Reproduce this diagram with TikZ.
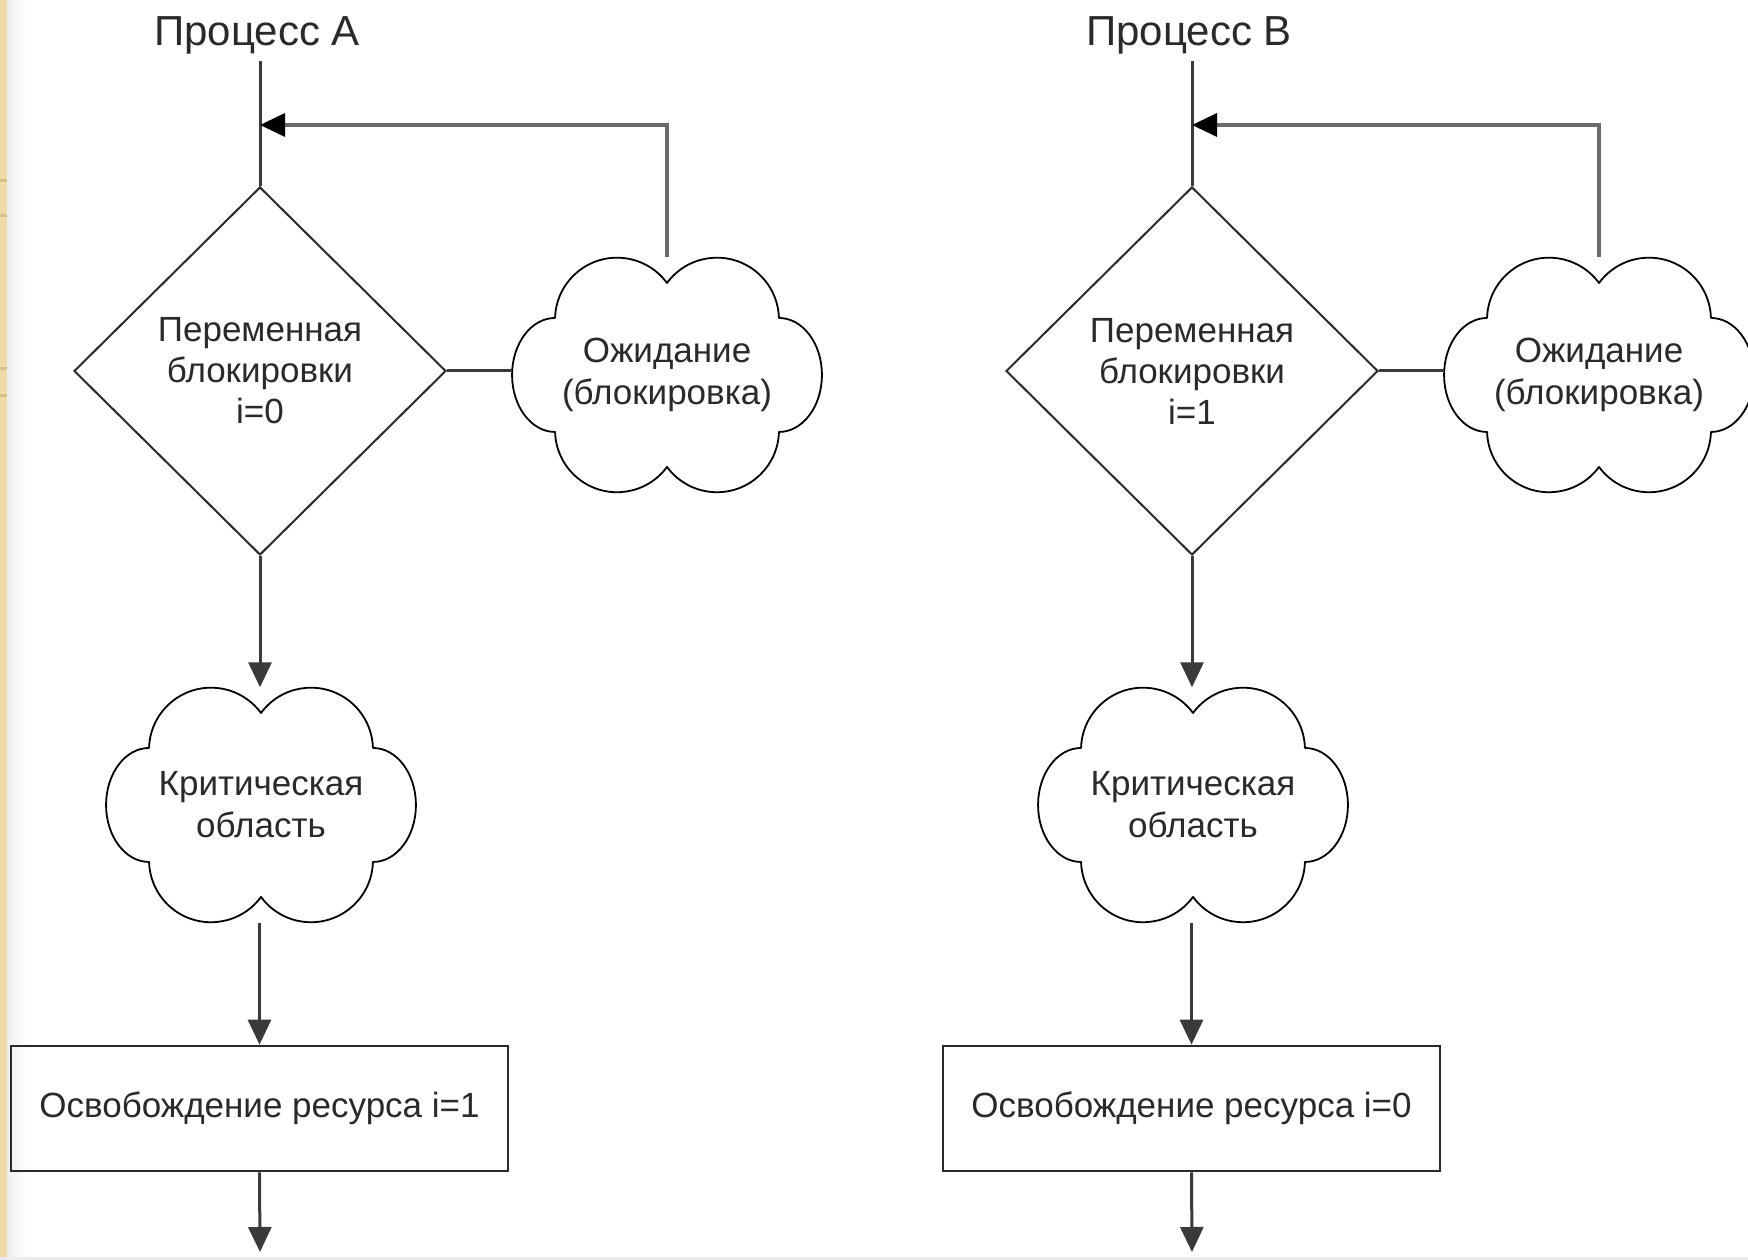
\documentclass[tikz,border=0pt]{standalone}
\usepackage{fontspec}
\setmainfont{Liberation Sans}
\usetikzlibrary{shapes.geometric,arrows.meta}

\definecolor{ink}{HTML}{2A2A2A}
\definecolor{wire}{HTML}{3A3A3A}
\definecolor{loopwire}{HTML}{6A6A6A}
\definecolor{parchment}{HTML}{EFDCA9}
\definecolor{parchmentline}{HTML}{D9C08A}

\newcommand\bodyfont{\fontsize{35}{41}\selectfont}
\newcommand\headfont{\fontsize{42}{50}\selectfont}

% cloud outline: two big lobes top and bottom, a flat lobe on each side
\newcommand\cloudpath[1]{%
  \draw[cloudline,shift={(#1.center)}] (0pt,92pt)
    arc[start angle=143.7,end angle=1.6,radius=62pt]
    arc[start angle=90,end angle=-90,x radius=43pt,y radius=57pt]
    arc[start angle=-1.6,end angle=-143.7,radius=62pt]
    arc[start angle=-36.3,end angle=-178.4,radius=62pt]
    arc[start angle=270,end angle=90,x radius=43pt,y radius=57pt]
    arc[start angle=178.4,end angle=36.3,radius=62pt] -- cycle;}

\tikzset{
  titletext/.style={text=ink,font=\headfont,inner sep=0pt},
  decision/.style={shape=diamond,aspect=1,draw=ink,line width=2pt,
    minimum width=372pt,minimum height=368pt,inner sep=0pt,
    align=center,text=ink,font=\bodyfont},
  cloudnode/.style={shape=rectangle,minimum width=310pt,minimum height=235pt,
    inner sep=0pt,align=center,text=ink,font=\fontsize{35}{42}\selectfont},
  cloudline/.style={draw=black,line width=1.8pt,line join=round},
  actionbox/.style={shape=rectangle,draw=ink,line width=2.6pt,
    minimum width=497pt,minimum height=125pt,inner sep=0pt,
    text=ink,font=\bodyfont},
  wireline/.style={draw=wire,line width=3pt},
  flow/.style={wireline,-{Triangle[length=25pt,width=23pt]}},
  loopflow/.style={draw=loopwire,line width=3.4pt,-{Triangle[length=25pt,width=23pt,color=black]}},
}

\begin{document}
\begin{tikzpicture}[x=1pt,y=1pt]
\useasboundingbox (0,0) rectangle (1748,1260);
\clip (0,0) rectangle (1748,1260);
\fill[white] (0,0) rectangle (1748,1260);

% slide edge on the left and a faint rule at the bottom
\shade[left color=black!7,right color=white] (7,0) rectangle (26,1260);
\fill[parchment] (0,0) rectangle (7,1260);
\foreach \yy in {1078,1043,890,863} \fill[parchmentline] (0,\yy) rectangle (7,\yy+3);
\fill[black!8] (0,0) rectangle (1748,3);

% ---------- process A ----------
\node[titletext] (tA) at (257,1225) {Процесс A};
\coordinate (topA) at (260,1199);
\coordinate (jA) at (260,1135);
\node[decision] (dA) at (260,889) {Переменная\\блокировки\\i=0};
\node[cloudnode] (wA) at (667,885) {Ожидание\\(блокировка)};
\node[cloudnode] (kA) at (261,455) {Критическая\\область};
\node[actionbox] (rA) at (259.5,151.5) {Освобождение ресурса i=1};
\coordinate (endA) at (260,8);
\cloudpath{wA}
\cloudpath{kA}

\draw[wireline] (topA) -- (dA.north);
\draw[wireline] (dA.east) -- (dA.east -| wA.west);
\draw[loopflow] (wA.north) |- (jA);
\draw[flow] (dA.south) -- (dA.south |- kA.north);
\draw[flow] (rA.north |- kA.south) -- (rA.north);
\draw[flow] (rA.south) -- (endA);

% ---------- process B ----------
\node[titletext] (tB) at (1189,1225) {Процесс B};
\coordinate (topB) at (1192,1199);
\coordinate (jB) at (1192,1135);
\node[decision] (dB) at (1192,889) {Переменная\\блокировки\\i=1};
\node[cloudnode] (wB) at (1599,885) {Ожидание\\(блокировка)};
\node[cloudnode] (kB) at (1193,455) {Критическая\\область};
\node[actionbox] (rB) at (1191.5,151.5) {Освобождение ресурса i=0};
\coordinate (endB) at (1192,8);
\cloudpath{wB}
\cloudpath{kB}

\draw[wireline] (topB) -- (dB.north);
\draw[wireline] (dB.east) -- (dB.east -| wB.west);
\draw[loopflow] (wB.north) |- (jB);
\draw[flow] (dB.south) -- (dB.south |- kB.north);
\draw[flow] (rB.north |- kB.south) -- (rB.north);
\draw[flow] (rB.south) -- (endB);
\end{tikzpicture}
\end{document}
